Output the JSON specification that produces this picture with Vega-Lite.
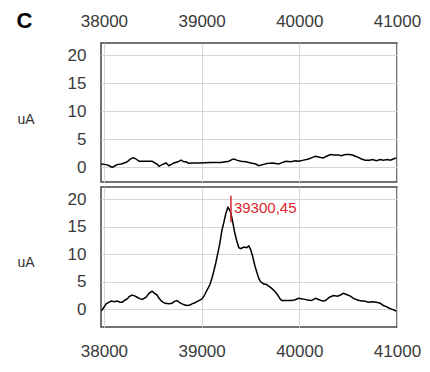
{
  "$schema": "https://vega.github.io/schema/vega-lite/v6.json",
  "background": "white",
  "padding": {"left": 15, "top": 8, "right": 5, "bottom": 5},
  "config": {
    "font": "Liberation Sans",
    "view": {"stroke": "#444444", "strokeWidth": 1.5},
    "concat": {"spacing": 3},
    "axis": {
      "grid": true, "gridColor": "#d6d6d6", "gridWidth": 1,
      "ticks": false, "domain": false,
      "labelFont": "Liberation Sans", "labelFontSize": 17, "labelColor": "#3a3a3a",
      "labelOverlap": false, "labelFlush": false, "labelBound": false
    }
  },
  "datasets": {
    "top": [
      {"x": 37972, "y": 0.6}, {"x": 38023, "y": 0.5}, {"x": 38054, "y": 0.3}, {"x": 38085, "y": 0.0},
      {"x": 38115, "y": 0.3}, {"x": 38136, "y": 0.5}, {"x": 38177, "y": 0.6}, {"x": 38207, "y": 0.8},
      {"x": 38238, "y": 1.0}, {"x": 38258, "y": 1.3}, {"x": 38289, "y": 1.7}, {"x": 38309, "y": 1.7},
      {"x": 38330, "y": 1.5}, {"x": 38360, "y": 1.1}, {"x": 38432, "y": 1.1}, {"x": 38493, "y": 1.1},
      {"x": 38544, "y": 0.6}, {"x": 38564, "y": 0.2}, {"x": 38595, "y": 0.5}, {"x": 38636, "y": 0.8},
      {"x": 38666, "y": 0.3}, {"x": 38687, "y": 0.5}, {"x": 38717, "y": 0.8}, {"x": 38758, "y": 1.0},
      {"x": 38789, "y": 1.3}, {"x": 38819, "y": 1.0}, {"x": 38840, "y": 1.0}, {"x": 38870, "y": 0.7},
      {"x": 38891, "y": 0.8}, {"x": 38972, "y": 0.8}, {"x": 39095, "y": 0.9}, {"x": 39197, "y": 0.9},
      {"x": 39279, "y": 1.1}, {"x": 39309, "y": 1.4}, {"x": 39330, "y": 1.5}, {"x": 39360, "y": 1.3},
      {"x": 39401, "y": 1.1}, {"x": 39452, "y": 1.0}, {"x": 39503, "y": 0.8}, {"x": 39554, "y": 0.6},
      {"x": 39585, "y": 0.3}, {"x": 39626, "y": 0.5}, {"x": 39667, "y": 0.7}, {"x": 39728, "y": 0.8},
      {"x": 39789, "y": 0.6}, {"x": 39830, "y": 0.9}, {"x": 39860, "y": 1.1}, {"x": 39911, "y": 1.0},
      {"x": 39962, "y": 1.2}, {"x": 39993, "y": 1.1}, {"x": 40044, "y": 1.3}, {"x": 40095, "y": 1.5},
      {"x": 40136, "y": 1.8}, {"x": 40166, "y": 2.0}, {"x": 40207, "y": 1.8}, {"x": 40248, "y": 1.7},
      {"x": 40279, "y": 2.0}, {"x": 40319, "y": 2.3}, {"x": 40360, "y": 2.2}, {"x": 40401, "y": 2.2},
      {"x": 40432, "y": 2.1}, {"x": 40472, "y": 2.3}, {"x": 40513, "y": 2.3}, {"x": 40544, "y": 2.2},
      {"x": 40574, "y": 2.0}, {"x": 40605, "y": 1.8}, {"x": 40636, "y": 1.5}, {"x": 40676, "y": 1.3},
      {"x": 40717, "y": 1.3}, {"x": 40748, "y": 1.4}, {"x": 40789, "y": 1.2}, {"x": 40830, "y": 1.4},
      {"x": 40860, "y": 1.3}, {"x": 40901, "y": 1.4}, {"x": 40932, "y": 1.3}, {"x": 40962, "y": 1.5},
      {"x": 40993, "y": 1.7}
    ],
    "bottom": [
      {"x": 37972, "y": -0.3}, {"x": 37993, "y": 0.2}, {"x": 38023, "y": 1.0}, {"x": 38054, "y": 1.3},
      {"x": 38075, "y": 1.5}, {"x": 38105, "y": 1.4}, {"x": 38136, "y": 1.5}, {"x": 38166, "y": 1.3},
      {"x": 38187, "y": 1.3}, {"x": 38218, "y": 1.7}, {"x": 38238, "y": 1.9}, {"x": 38258, "y": 2.3},
      {"x": 38289, "y": 2.6}, {"x": 38320, "y": 2.4}, {"x": 38340, "y": 2.2}, {"x": 38371, "y": 1.9},
      {"x": 38391, "y": 1.8}, {"x": 38411, "y": 2.0}, {"x": 38432, "y": 2.2}, {"x": 38462, "y": 2.9},
      {"x": 38493, "y": 3.3}, {"x": 38513, "y": 3.0}, {"x": 38544, "y": 2.6}, {"x": 38564, "y": 2.0},
      {"x": 38595, "y": 1.4}, {"x": 38626, "y": 1.1}, {"x": 38666, "y": 1.0}, {"x": 38697, "y": 1.1},
      {"x": 38717, "y": 1.4}, {"x": 38748, "y": 1.6}, {"x": 38768, "y": 1.3}, {"x": 38799, "y": 1.0},
      {"x": 38830, "y": 0.8}, {"x": 38850, "y": 0.7}, {"x": 38881, "y": 0.8}, {"x": 38901, "y": 1.0},
      {"x": 38932, "y": 1.2}, {"x": 38952, "y": 1.4}, {"x": 38973, "y": 1.6}, {"x": 39003, "y": 1.9},
      {"x": 39024, "y": 2.4}, {"x": 39044, "y": 3.1}, {"x": 39065, "y": 3.8}, {"x": 39085, "y": 4.5},
      {"x": 39105, "y": 5.6}, {"x": 39126, "y": 7.0}, {"x": 39146, "y": 8.5}, {"x": 39167, "y": 10.3},
      {"x": 39187, "y": 12.0}, {"x": 39207, "y": 14.3}, {"x": 39228, "y": 15.8}, {"x": 39248, "y": 17.4},
      {"x": 39269, "y": 18.5}, {"x": 39289, "y": 18.0}, {"x": 39299, "y": 17.5}, {"x": 39320, "y": 15.7},
      {"x": 39340, "y": 13.8}, {"x": 39360, "y": 12.4}, {"x": 39381, "y": 11.2}, {"x": 39401, "y": 11.0},
      {"x": 39432, "y": 11.3}, {"x": 39462, "y": 11.2}, {"x": 39483, "y": 11.5}, {"x": 39503, "y": 10.8},
      {"x": 39524, "y": 9.5}, {"x": 39544, "y": 8.0}, {"x": 39564, "y": 6.8}, {"x": 39585, "y": 5.6},
      {"x": 39605, "y": 5.0}, {"x": 39636, "y": 4.6}, {"x": 39667, "y": 4.5}, {"x": 39687, "y": 4.2},
      {"x": 39718, "y": 3.8}, {"x": 39748, "y": 3.3}, {"x": 39779, "y": 2.6}, {"x": 39799, "y": 2.0},
      {"x": 39820, "y": 1.6}, {"x": 39860, "y": 1.6}, {"x": 39911, "y": 1.6}, {"x": 39952, "y": 1.7},
      {"x": 39993, "y": 2.0}, {"x": 40034, "y": 1.9}, {"x": 40085, "y": 1.7}, {"x": 40125, "y": 1.6},
      {"x": 40166, "y": 2.0}, {"x": 40197, "y": 1.8}, {"x": 40238, "y": 1.5}, {"x": 40268, "y": 1.6},
      {"x": 40309, "y": 2.2}, {"x": 40350, "y": 2.5}, {"x": 40391, "y": 2.4}, {"x": 40421, "y": 2.6},
      {"x": 40452, "y": 2.9}, {"x": 40482, "y": 2.7}, {"x": 40523, "y": 2.4}, {"x": 40554, "y": 2.0},
      {"x": 40595, "y": 1.7}, {"x": 40636, "y": 1.5}, {"x": 40666, "y": 1.5}, {"x": 40707, "y": 1.3},
      {"x": 40748, "y": 1.4}, {"x": 40789, "y": 1.3}, {"x": 40830, "y": 1.1}, {"x": 40860, "y": 0.7},
      {"x": 40891, "y": 0.5}, {"x": 40921, "y": 0.2}, {"x": 40952, "y": 0.0}, {"x": 40993, "y": -0.3}
    ],
    "peak": [
      {"x": 39300, "y1": 15.8, "y2": 20.6, "ty": 17.5, "label": "39300,45"}
    ]
  },
  "vconcat": [
    {
      "width": 296,
      "height": 139,
      "data": {"name": "top"},
      "mark": {"type": "line", "color": "black", "strokeWidth": 1.5, "clip": true},
      "encoding": {
        "x": {
          "field": "x", "type": "quantitative",
          "scale": {"domain": [37970, 41000], "nice": false, "zero": false},
          "axis": {
            "orient": "top", "values": [38000, 39000, 40000, 41000], "format": "d",
            "labelPadding": 13,
            "title": "C", "titleX": -85, "titleY": -16, "titleAngle": 0,
            "titleAlign": "left", "titleBaseline": "alphabetic",
            "titleFontSize": 22, "titleFontWeight": "bold", "titleColor": "black"
          }
        },
        "y": {
          "field": "y", "type": "quantitative",
          "scale": {"domain": [-2.6, 22.2], "nice": false, "zero": false},
          "axis": {
            "values": [0, 5, 10, 15, 20], "labelPadding": 15,
            "title": "uA", "titleAngle": 0, "titleX": -84, "titleY": 76,
            "titleAlign": "left", "titleBaseline": "middle",
            "titleFontSize": 14, "titleFontWeight": "normal", "titleColor": "#333333"
          }
        }
      }
    },
    {
      "width": 296,
      "height": 140,
      "layer": [
        {
          "data": {"name": "bottom"},
          "mark": {"type": "line", "color": "black", "strokeWidth": 1.5, "clip": true},
          "encoding": {
            "x": {
              "field": "x", "type": "quantitative",
              "scale": {"domain": [37970, 41000], "nice": false, "zero": false},
              "axis": {
                "orient": "bottom", "values": [38000, 39000, 40000, 41000], "format": "d",
                "labelPadding": 16, "title": null
              }
            },
            "y": {
              "field": "y", "type": "quantitative",
              "scale": {"domain": [-3.2, 22.2], "nice": false, "zero": false},
              "axis": {
                "values": [0, 5, 10, 15, 20], "labelPadding": 15,
                "title": "uA", "titleAngle": 0, "titleX": -84, "titleY": 75,
                "titleAlign": "left", "titleBaseline": "middle",
                "titleFontSize": 14, "titleFontWeight": "normal", "titleColor": "#333333"
              }
            }
          }
        },
        {
          "data": {"name": "peak"},
          "mark": {"type": "rule", "color": "#d9272e", "strokeWidth": 1.5},
          "encoding": {
            "x": {
              "field": "x", "type": "quantitative",
              "axis": {
                "orient": "bottom", "values": [38000, 39000, 40000, 41000], "format": "d",
                "labelPadding": 16, "title": null
              }
            },
            "y": {
              "field": "y1", "type": "quantitative",
              "axis": {
                "values": [0, 5, 10, 15, 20], "labelPadding": 15,
                "title": "uA", "titleAngle": 0, "titleX": -84, "titleY": 75,
                "titleAlign": "left", "titleBaseline": "middle",
                "titleFontSize": 14, "titleFontWeight": "normal", "titleColor": "#333333"
              }
            },
            "y2": {"field": "y2"}
          }
        },
        {
          "data": {"name": "peak"},
          "mark": {"type": "text", "align": "left", "baseline": "alphabetic", "dx": 3, "fontSize": 15, "color": "#d9272e"},
          "encoding": {
            "x": {
              "field": "x", "type": "quantitative",
              "axis": {
                "orient": "bottom", "values": [38000, 39000, 40000, 41000], "format": "d",
                "labelPadding": 16, "title": null
              }
            },
            "y": {
              "field": "ty", "type": "quantitative",
              "axis": {
                "values": [0, 5, 10, 15, 20], "labelPadding": 15,
                "title": "uA", "titleAngle": 0, "titleX": -84, "titleY": 75,
                "titleAlign": "left", "titleBaseline": "middle",
                "titleFontSize": 14, "titleFontWeight": "normal", "titleColor": "#333333"
              }
            },
            "text": {"field": "label"}
          }
        }
      ]
    }
  ]
}
